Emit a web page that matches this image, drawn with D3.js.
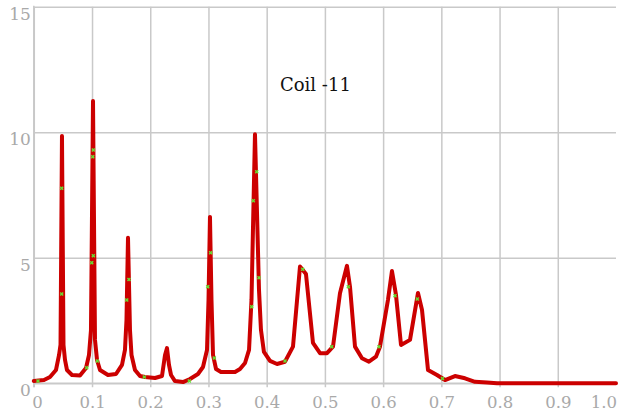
<!DOCTYPE html>
<html>
<head>
<meta charset="utf-8">
<script src="https://cdn.jsdelivr.net/npm/d3@7"></script>
<style>
  html, body { margin: 0; padding: 0; background: #fff; }
  svg { display: block; }
</style>
</head>
<body>
<svg id="chart" width="618" height="417"></svg>
<script>
// ---- data ----
const title = "Coil -11";
const xValues = [0.000,0.0175,0.0278,0.0381,0.0433,0.0459,0.0484,0.0510,0.0536,0.0570,0.0656,0.0793,0.0897,0.0948,0.0982,0.1017,0.1051,0.1086,0.1137,0.1274,0.1412,0.1515,0.1566,0.1592,0.1618,0.1652,0.1678,0.1738,0.1824,0.1910,0.2082,0.2202,0.2254,0.2288,0.2322,0.2357,0.2425,0.2563,0.2683,0.2820,0.2906,0.2975,0.3001,0.3026,0.3052,0.3078,0.3130,0.3215,0.3456,0.3542,0.3628,0.3697,0.3739,0.3799,0.3868,0.3902,0.3953,0.4057,0.4177,0.4314,0.4452,0.4572,0.4675,0.4795,0.4916,0.5036,0.5139,0.5259,0.5379,0.5431,0.5517,0.5637,0.5757,0.5877,0.5946,0.6083,0.6152,0.6221,0.6307,0.6462,0.6599,0.6668,0.6771,0.6925,0.7063,0.7234,0.7406,0.7578,0.7784,0.7956,0.85,0.90,0.95,1.00];
const yValues = [0.09,0.13,0.25,0.53,1.12,1.53,9.85,1.53,0.93,0.53,0.33,0.31,0.61,1.13,2.12,11.25,1.73,0.93,0.53,0.33,0.37,0.73,1.33,2.52,5.80,2.12,1.13,0.53,0.29,0.25,0.21,0.29,1.13,1.40,0.73,0.33,0.09,0.05,0.17,0.37,0.65,1.33,3.32,6.63,3.32,1.13,0.57,0.45,0.45,0.57,0.81,1.33,3.32,9.92,3.72,2.12,1.25,0.89,0.77,0.86,1.46,4.65,4.35,1.61,1.20,1.20,1.46,3.59,4.68,3.85,1.46,1.00,0.86,1.06,1.46,3.32,4.47,3.52,1.53,1.73,3.60,2.92,0.53,0.33,0.13,0.29,0.20,0.06,0.03,0.00,0.00,0.00,0.00,0.00];
const markerX = [0.0072,0.0479,0.0479,0.1022,0.1012,0.1022,0.0995,0.0909,0.1091,0.1596,0.1635,0.1898,0.2671,0.2987,0.3038,0.3100,0.3770,0.3829,0.3868,0.3743,0.4315,0.4619,0.5117,0.5402,0.5929,0.6204,0.6587,0.7020];
const markerY = [0.09,7.77,3.56,9.29,9.03,5.08,4.80,0.62,0.89,3.32,4.14,0.25,0.09,3.85,5.20,1.01,7.27,8.43,4.21,3.05,0.89,4.54,1.46,3.85,1.46,3.49,3.36,0.19];
const xTicks = [0,0.1,0.2,0.3,0.4,0.5,0.6,0.7,0.8,0.9,1.0];
const xTickLabels = ["0","0.1","0.2","0.3","0.4","0.5","0.6","0.7","0.8","0.9","1.0"];
const yTicks = [0,5,10,15];

// ---- layout ----
const svg = d3.select("#chart");
const x = d3.scaleLinear().domain([0, 1]).range([33.8, 616]);
const y = d3.scaleLinear().domain([0, 15]).range([383.3, 6.8]);
const gridColor = "#c9c9c9";
const labelColor = "#a9a9a9";
const font = "'DejaVu Serif', 'Liberation Serif', 'Noto Serif', serif";

// horizontal gridlines + y labels
const yAxis = svg.append("g")
  .attr("transform", `translate(${x(0)},0)`)
  .call(d3.axisLeft(y).tickValues(yTicks).tickSize(-(x(1) - x(0))).tickFormat(d3.format("d")).tickPadding(3));
yAxis.attr("font-family", null);
yAxis.select(".domain").remove();
yAxis.selectAll(".tick line").attr("stroke", gridColor).attr("stroke-width", 1.5);
yAxis.selectAll(".tick text")
  .attr("fill", labelColor).style("font-family", font).style("font-size", "17px")
  .attr("dy", "0.72em");

// vertical gridlines + x labels
const xAxis = svg.append("g")
  .attr("transform", `translate(0,${y(0)})`)
  .call(d3.axisBottom(x).tickValues(xTicks.slice(0, -1)).tickSize(-(y(0) - y(15))).tickFormat((d, i) => xTickLabels[i]));
xAxis.attr("font-family", null);
xAxis.select(".domain").remove();
xAxis.selectAll(".tick line").attr("stroke", gridColor).attr("stroke-width", 1.5).attr("y2", -(y(0) - y(15))).attr("y1", 4);
xAxis.selectAll(".tick text")
  .attr("fill", labelColor).style("font-family", font).style("font-size", "16.5px")
  .attr("y", 24.5).attr("dy", 0);
xAxis.selectAll(".tick").filter(d => d === 0).select("text").attr("text-anchor", "start").attr("x", -2);
// last label (1.0) kept inside the window
svg.append("text")
  .attr("x", 617).attr("y", y(0) + 24.5)
  .attr("text-anchor", "end")
  .attr("fill", labelColor).style("font-family", font).style("font-size", "16.5px")
  .text(xTickLabels[xTickLabels.length - 1]);

// axis lines
svg.append("line").attr("x1", x(0)).attr("x2", x(0)).attr("y1", y(15) - 1).attr("y2", y(0) + 4)
  .attr("stroke", gridColor).attr("stroke-width", 1.5);
svg.append("line").attr("x1", x(0)).attr("x2", x(1)).attr("y1", y(0)).attr("y2", y(0))
  .attr("stroke", gridColor).attr("stroke-width", 1.5);

// title
svg.append("text").attr("x", 280).attr("y", 91)
  .style("font-family", font).style("font-size", "18px").attr("fill", "#111")
  .text(title);

// series line
const pts = xValues.map((d, i) => [d, yValues[i]]);
svg.append("path")
  .datum(pts)
  .attr("fill", "none")
  .attr("stroke", "#cc0000")
  .attr("stroke-width", 4)
  .attr("stroke-linejoin", "round")
  .attr("stroke-linecap", "round")
  .attr("d", d3.line().x(d => x(d[0])).y(d => y(d[1])));

// green markers
const sym = d3.symbol().type(d3.symbolCross).size(10);
svg.append("g").selectAll("path")
  .data(markerX.map((d, i) => [d, markerY[i]]))
  .join("path")
  .attr("transform", d => `translate(${x(d[0])},${y(d[1])}) rotate(45)`)
  .attr("d", sym)
  .attr("fill", "#66dd33");
</script>
</body>
</html>
